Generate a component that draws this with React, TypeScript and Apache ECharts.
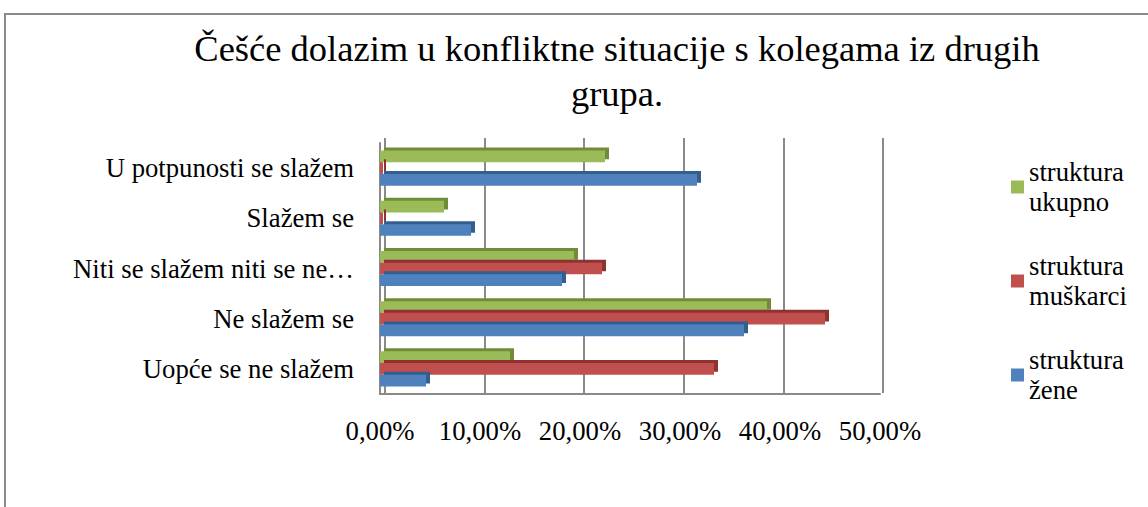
import React, { useEffect, useRef } from "react";
import * as echarts from "echarts";

const titleText = "Češće dolazim u konfliktne situacije s kolegama iz drugih\ngrupa.";
const categories = [
  "Uopće se ne slažem",
  "Ne slažem se",
  "Niti se slažem niti se ne…",
  "Slažem se",
  "U potpunosti se slažem",
];
const seriesNames = ["struktura ukupno", "struktura muškarci", "struktura žene"];
const legendLabels = ["struktura\nukupno", "struktura\nmuškarci", "struktura\nžene"];
const ukupno = [13.0, 38.7, 19.4, 6.4, 22.5];
const muskarci = [33.4, 44.5, 22.2, 0.3, 0.3];
const zene = [4.6, 36.4, 18.2, 9.1, 31.7];
const axisMax = 50;
const axisInterval = 10;

const colors = ["#9bbb59", "#c0504d", "#4f81bd"];
const sideColors = ["#6f8c38", "#8e3331", "#335e8f"];
const FONT = "Liberation Serif";

export default function App() {
  const ref = useRef<HTMLDivElement>(null);
  useEffect(() => {
    document.body.style.margin = "0";
    const chart = echarts.init(ref.current!, null, { renderer: "svg" });
    const values = [ukupno, muskarci, zene];
    const labelMap: Record<string, string> = {};
    seriesNames.forEach((n, i) => (labelMap[n] = legendLabels[i]));
    chart.setOption({
      animation: false,
      backgroundColor: "#ffffff",
      textStyle: { fontFamily: FONT },
      title: {
        text: titleText,
        left: 612,
        textAlign: "center",
        top: 21,
        textStyle: {
          fontFamily: FONT,
          fontSize: 36.5,
          fontWeight: "normal",
          color: "#000",
          lineHeight: 45,
        },
      },
      graphic: [
        {
          type: "rect",
          shape: { x: 5, y: 14, width: 1300, height: 700 },
          style: { fill: "none", stroke: "#8a8a8a", lineWidth: 2 },
          silent: true,
        },
      ],
      legend: {
        orient: "vertical",
        left: 1006,
        top: 137,
        itemWidth: 13,
        itemHeight: 13,
        itemGap: 4,
        icon: "rect",
        data: seriesNames,
        formatter: (n: string) => labelMap[n],
        textStyle: {
          fontFamily: FONT,
          fontSize: 26.7,
          color: "#000",
          lineHeight: 30,
          padding: [30, 0, 0, 0],
        },
      },
      grid: [
        { left: 380, top: 143, width: 500, height: 251, containLabel: false },
        { left: 385, top: 138, width: 498, height: 255, containLabel: false },
      ],
      xAxis: [
        {
          type: "value",
          gridIndex: 0,
          min: 0,
          max: axisMax,
          interval: axisInterval,
          axisLine: { show: true, lineStyle: { color: "#8a8a8a", width: 2 } },
          axisTick: { show: false },
          splitLine: { show: false },
          axisLabel: {
            margin: 23,
            fontFamily: FONT,
            fontSize: 26.7,
            color: "#000",
            formatter: (v: number) => v.toFixed(2).replace(".", ",") + "%",
          },
        },
        {
          type: "value",
          gridIndex: 1,
          min: 0,
          max: axisMax,
          interval: axisInterval,
          axisLine: { show: false },
          axisTick: { show: false },
          axisLabel: { show: false },
          splitLine: { show: true, lineStyle: { color: "#8a8a8a", width: 2 } },
        },
      ],
      yAxis: [
        {
          type: "category",
          gridIndex: 0,
          data: categories,
          axisLine: { show: true, lineStyle: { color: "#8a8a8a", width: 2 } },
          axisTick: { show: false },
          axisLabel: {
            margin: 26,
            fontFamily: FONT,
            fontSize: 26.7,
            color: "#000",
          },
        },
        {
          type: "category",
          gridIndex: 1,
          data: categories,
          axisLine: { show: false },
          axisTick: { show: false },
          axisLabel: { show: false },
        },
      ],
      series: seriesNames.map((name, i) => ({
        name,
        type: "bar",
        xAxisIndex: 0,
        yAxisIndex: 0,
        data: values[i],
        barGap: "0%",
        barCategoryGap: "30%",
        itemStyle: {
          color: colors[i],
          shadowColor: sideColors[i],
          shadowOffsetX: 4,
          shadowOffsetY: -3,
          shadowBlur: 0,
        },
      })),
    });
    return () => chart.dispose();
  }, []);
  return <div ref={ref} style={{ width: 1148, height: 507 }} />;
}
